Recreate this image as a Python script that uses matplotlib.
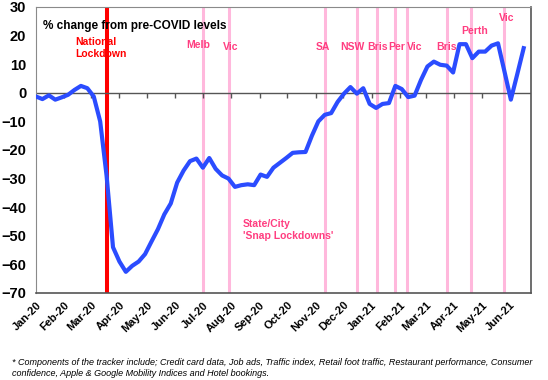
import numpy as np
import pandas as pd
import matplotlib
matplotlib.use('Agg')
import matplotlib.pyplot as plt
import matplotlib.dates as mdates

plt.rcParams['font.family'] = ['Liberation Sans', 'DejaVu Sans']

# weekly readings of the tracker, % change from pre-COVID levels
start = '2020-01-01'
values = [-1.3, -2.2, -0.9, -2.4, -1.6, -0.7, 1.0, 2.4, 1.6, -1.3,
          -10.0, -29.0, -54.0, -59.0, -62.6, -60.5, -59.0, -56.4, -52.0, -47.7,
          -42.5, -38.7, -31.4, -27.2, -23.9, -23.0, -26.2, -22.8, -26.6, -28.9,
          -30.0, -32.9, -32.3, -32.0, -32.3, -28.6, -29.4, -26.2, -24.5, -22.8,
          -21.0, -20.8, -20.7, -15.0, -10.0, -7.7, -7.1, -3.2, -0.3, 2.0,
          -0.3, 1.6, -3.9, -5.3, -3.9, -3.6, 2.4, 1.3, -1.5, -1.0,
          4.5, 9.2, 10.9, 9.8, 9.5, 7.1, 17.0, 17.0, 12.1, 14.4,
          14.4, 16.5, 17.3, 7.5, -2.4, 6.5, 15.6]
dates = pd.date_range(start, periods=len(values), freq='7D')

national_date = '2020-03-18'
snap_dates = ['2020-07-01', '2020-07-30', '2020-11-11', '2020-12-16', '2021-01-07',
              '2021-01-27', '2021-02-09', '2021-03-24', '2021-04-20', '2021-05-25']
snap_labels = ['Melb', 'Vic', 'SA', 'NSW', 'Bris', 'Per', 'Vic', 'Bris', 'Perth', 'Vic']
snap_label_x = ['2020-06-26', '2020-07-31', '2020-11-09', '2020-12-11', '2021-01-07',
                '2021-01-29', '2021-02-17', '2021-03-24', '2021-04-24', '2021-05-28']
snap_label_y = [16.6, 16.1, 16.1, 16.1, 16.1, 16.1, 16.1, 16.1, 21.5, 26.2]

pink_line = '#ffb8dc'
pink_text = '#ff3d80'

fig = plt.figure(figsize=(5.48, 3.8), dpi=100)
ax = fig.add_axes([0.0657, 0.229, 0.9033, 0.7526])

for d in snap_dates:
    ax.axvline(pd.Timestamp(d), color=pink_line, lw=2.2, zorder=1)
ax.axvline(pd.Timestamp(national_date), color='#ff0000', lw=2.9, zorder=2)

ax.axhline(0, color='#555555', lw=1.0, zorder=2)

ax.plot(dates, values, color='#2b4cff', lw=3.0, zorder=3, solid_joinstyle='round')

ax.set_ylim(-70, 30)
ax.set_yticks(range(-70, 31, 10))
ax.set_xlim(pd.Timestamp('2020-01-01'), pd.Timestamp('2021-06-24'))

months = pd.date_range('2020-01-01', '2021-06-01', freq='MS')
ax.set_xticks(months)
ax.xaxis.set_major_formatter(mdates.DateFormatter('%b-%y'))
ax.vlines(months[1:], -1.8, 0, color='#555555', lw=1.0, zorder=2)
ax.tick_params(axis='x', length=0, pad=5)
ax.tick_params(axis='y', length=0, pad=7)
for lab in ax.get_xticklabels():
    lab.set_rotation(45)
    lab.set_ha('right')
    lab.set_rotation_mode('anchor')
    lab.set_fontsize(8)
    lab.set_fontweight('bold')
for lab in ax.get_yticklabels():
    lab.set_fontsize(10.5)
    lab.set_fontweight('bold')

for s in ['left', 'top']:
    ax.spines[s].set_color('#8a8a8a')
for s in ['right', 'bottom']:
    ax.spines[s].set_color('#555555')
    ax.spines[s].set_linewidth(1.2)

ax.text(0.015, 0.955, '% change from pre-COVID levels', transform=ax.transAxes,
        fontsize=8.5, fontweight='bold', va='top', ha='left')
ax.text(pd.Timestamp('2020-02-13'), 19.5, 'National\nLockdown', color='#ff0000',
        fontsize=7.5, fontweight='bold', va='top', ha='left', linespacing=1.2)
for x, lab, y in zip(snap_label_x, snap_labels, snap_label_y):
    ax.text(pd.Timestamp(x), y, lab, color=pink_text, fontsize=7.5,
            fontweight='bold', ha='center', va='center')
ax.text(pd.Timestamp('2020-08-14'), -48, "State/City\n'Snap Lockdowns'", color=pink_text,
        fontsize=7.5, fontweight='bold', ha='left', va='center', linespacing=1.3)

fig.text(0.022, 0.032, '* Components of the tracker include; Credit card data, Job ads, Traffic index, '
         'Retail foot traffic, Restaurant performance, Consumer\nconfidence, Apple & Google '
         'Mobility Indices and Hotel bookings.', fontsize=6.45, style='italic',
         ha='left', va='center', linespacing=1.3)

fig.savefig('out.png', dpi=100)
